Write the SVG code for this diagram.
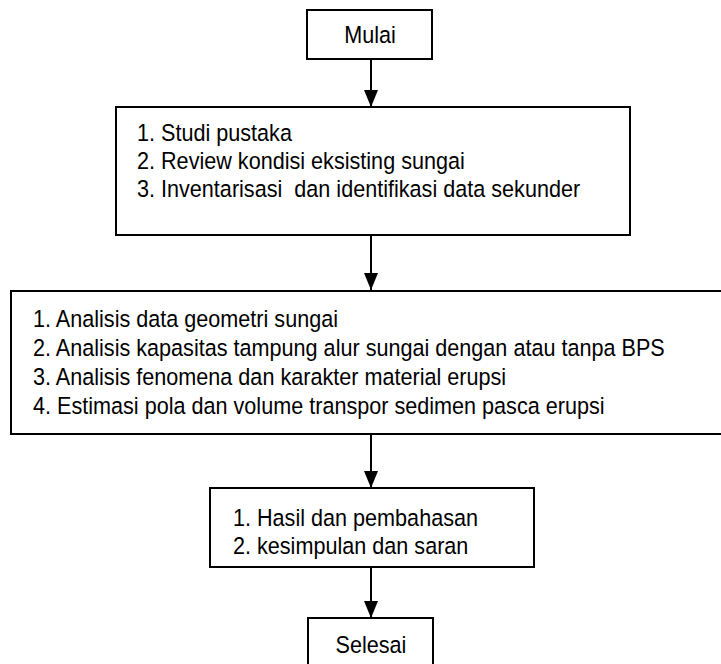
<svg xmlns="http://www.w3.org/2000/svg" width="721" height="664" viewBox="0 0 721 664">
  <style>
    .box { fill: #ffffff; stroke: #000000; stroke-width: 2; }
    .txt { font-family: "Liberation Sans", Arial, sans-serif; font-size: 23.5px; fill: #000000; }
    .mid { text-anchor: middle; }
    .conn { stroke: #000000; stroke-width: 2; fill: none; marker-end: url(#arrow); }
  </style>
  <defs>
    <marker id="arrow" markerUnits="userSpaceOnUse" viewBox="0 0 17 14" markerWidth="17" markerHeight="14" refX="17" refY="7" orient="auto">
      <path d="M0,0 L17,7 L0,14 Z" fill="#000000"/>
    </marker>
  </defs>
  <rect width="721" height="664" fill="#ffffff"/>

  <g id="connectors">
    <line class="conn" x1="371" y1="59" x2="371" y2="107"/>
    <line class="conn" x1="371" y1="235" x2="371" y2="290"/>
    <line class="conn" x1="371" y1="434" x2="371" y2="488"/>
    <line class="conn" x1="371" y1="567" x2="371" y2="618"/>
  </g>

  <g id="mulai">
    <rect class="box" x="307" y="10" width="125" height="49"/>
    <g transform="translate(370,0) scale(0.92,1) translate(-370,0)">
      <text class="txt mid" x="370" y="43">Mulai</text>
    </g>
  </g>

  <g id="persiapan">
    <rect class="box" x="116" y="107" width="514" height="128"/>
    <g transform="translate(137,0) scale(0.92,1) translate(-137,0)">
      <text class="txt" x="137" y="141">1. Studi pustaka</text>
      <text class="txt" x="137" y="169">2. Review kondisi eksisting sungai</text>
      <text class="txt" x="137" y="197" xml:space="preserve">3. Inventarisasi  dan identifikasi data sekunder</text>
    </g>
  </g>

  <g id="analisis">
    <rect class="box" x="11" y="291" width="720" height="143"/>
    <g transform="translate(33,0) scale(0.92,1) translate(-33,0)">
      <text class="txt" x="33" y="327">1. Analisis data geometri sungai</text>
      <text class="txt" x="33" y="356">2. Analisis kapasitas tampung alur sungai dengan atau tanpa BPS</text>
      <text class="txt" x="33" y="385">3. Analisis fenomena dan karakter material erupsi</text>
      <text class="txt" x="33" y="414">4. Estimasi pola dan volume transpor sedimen pasca erupsi</text>
    </g>
  </g>

  <g id="hasil">
    <rect class="box" x="210" y="488" width="324" height="79"/>
    <g transform="translate(233,0) scale(0.92,1) translate(-233,0)">
      <text class="txt" x="233" y="526">1. Hasil dan pembahasan</text>
      <text class="txt" x="233" y="554">2. kesimpulan dan saran</text>
    </g>
  </g>

  <g id="selesai">
    <rect class="box" x="308" y="618" width="125" height="60"/>
    <g transform="translate(371,0) scale(0.92,1) translate(-371,0)">
      <text class="txt mid" x="371" y="653">Selesai</text>
    </g>
  </g>
</svg>
